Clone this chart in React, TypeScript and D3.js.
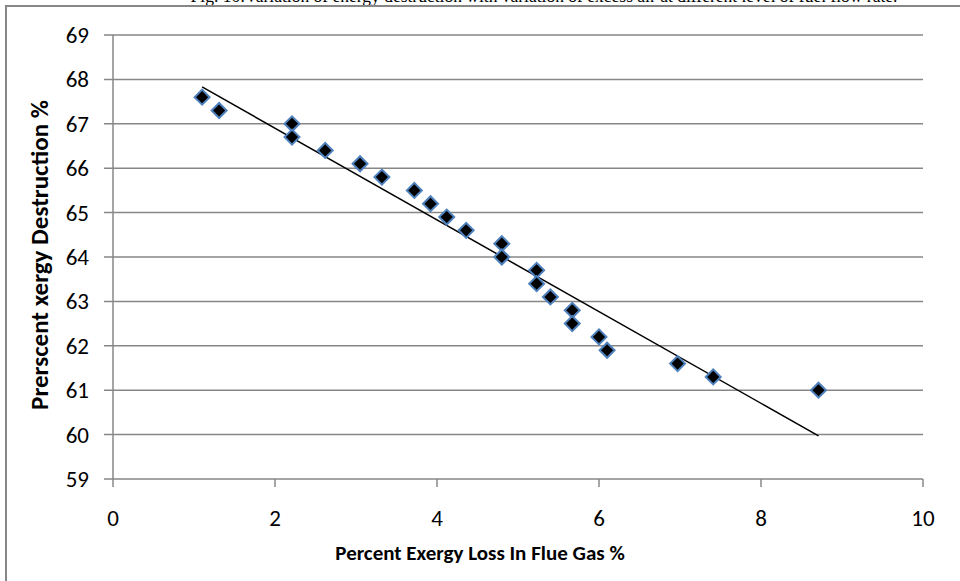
import React from "react";
import * as d3 from "d3";

// Percent exergy loss in flue gas (%)
const exergyLoss: number[] = [
  1.1, 1.31, 2.21, 2.21, 2.62, 3.05, 3.32, 3.72, 3.92, 4.12, 4.36, 4.8,
  4.8, 5.23, 5.23, 5.4, 5.67, 5.67, 6.0, 6.1, 6.97, 7.41, 8.71,
];
// Percent exergy destruction (%)
const exergyDestruction: number[] = [
  67.6, 67.3, 67.0, 66.7, 66.4, 66.1, 65.8, 65.5, 65.2, 64.9, 64.6, 64.3,
  64.0, 63.7, 63.4, 63.1, 62.8, 62.5, 62.2, 61.9, 61.6, 61.3, 61.0,
];
const xTicks: number[] = [0, 2, 4, 6, 8, 10];
const yTicks: number[] = [59, 60, 61, 62, 63, 64, 65, 66, 67, 68, 69];

const caption =
  "Fig. 10:Variation of energy destruction with variation of excess air at different level of fuel flow rate.";
const xTitle = "Percent Exergy Loss In Flue Gas %";
const yTitle = "Prerscent xergy Destruction %";

const W = 960;
const H = 581;
const plot = { left: 113, right: 923, top: 35, bottom: 479 };
const gridColor = "#878787";
const font = "Calibri, Carlito, Lato, 'Open Sans', 'Liberation Sans', sans-serif";

// Ordinary least-squares linear trend line
function linearFit(xs: number[], ys: number[]) {
  const mx = d3.mean(xs) as number;
  const my = d3.mean(ys) as number;
  let sxy = 0;
  let sxx = 0;
  xs.forEach((x, i) => {
    sxy += (x - mx) * (ys[i] - my);
    sxx += (x - mx) * (x - mx);
  });
  const slope = sxy / sxx;
  const intercept = my - slope * mx;
  return (x: number) => intercept + slope * x;
}

export default function App() {
  const x = d3.scaleLinear().domain([0, 10]).range([plot.left, plot.right]);
  const y = d3.scaleLinear().domain([59, 69]).range([plot.bottom, plot.top]);

  const points = exergyLoss.map((v, i) => ({ x: v, y: exergyDestruction[i] }));
  const fit = linearFit(exergyLoss, exergyDestruction);
  const [xMin, xMax] = d3.extent(exergyLoss) as [number, number];
  const trend = d3
    .line<number>()
    .x((d) => x(d))
    .y((d) => y(fit(d)))([xMin, xMax]);

  const diamond = d3.symbol().type(d3.symbolSquare).size(112)() as string;

  return (
    <svg
      width={W}
      height={H}
      style={{ position: "absolute", left: 0, top: 0, background: "#fff" }}
    >
      <text
        x={544}
        y={2}
        textAnchor="middle"
        fontFamily="'Times New Roman', 'Liberation Serif', serif"
        fontSize={17.5}
        fill="#000"
      >
        {caption}
      </text>

      {/* chart frame */}
      <rect
        x={6}
        y={6}
        width={W + 10}
        height={H + 10}
        fill="#fff"
        stroke={gridColor}
        strokeWidth={2}
      />

      {/* horizontal gridlines and y ticks */}
      {yTicks.map((t) => (
        <g key={`gy${t}`}>
          <line
            x1={plot.left - 9}
            x2={plot.right}
            y1={y(t)}
            y2={y(t)}
            stroke={gridColor}
            strokeWidth={1.5}
          />
          <text
            x={89}
            y={y(t)}
            dy="0.35em"
            textAnchor="end"
            fontFamily={font}
            fontSize={23}
            fill="#000"
          >
            {t}
          </text>
        </g>
      ))}

      {/* y axis line */}
      <line
        x1={plot.left}
        x2={plot.left}
        y1={plot.top}
        y2={plot.bottom}
        stroke={gridColor}
        strokeWidth={1.5}
      />

      {/* x ticks and labels */}
      {xTicks.map((t) => (
        <g key={`gx${t}`}>
          <line
            x1={x(t)}
            x2={x(t)}
            y1={plot.bottom}
            y2={plot.bottom + 8}
            stroke={gridColor}
            strokeWidth={1.5}
          />
          <text
            x={x(t)}
            y={518}
            dy="0.35em"
            textAnchor="middle"
            fontFamily={font}
            fontSize={23}
            fill="#000"
          >
            {t}
          </text>
        </g>
      ))}

      {/* trend line */}
      <path d={trend as string} fill="none" stroke="#000" strokeWidth={1.5} />

      {/* data markers */}
      {points.map((p, i) => (
        <path
          key={i}
          d={diamond}
          transform={`translate(${x(p.x)},${y(p.y)}) rotate(45)`}
          fill="#000"
          stroke="#4f81bd"
          strokeWidth={2}
        />
      ))}

      <text
        x={480}
        y={553}
        dy="0.35em"
        textAnchor="middle"
        fontFamily={font}
        fontWeight="bold"
        fontSize={21}
        fill="#000"
      >
        {xTitle}
      </text>
      <text
        transform={`translate(39,255) rotate(-90)`}
        dy="0.35em"
        textAnchor="middle"
        fontFamily={font}
        fontWeight="bold"
        fontSize={25}
        fill="#000"
      >
        {yTitle}
      </text>
    </svg>
  );
}
